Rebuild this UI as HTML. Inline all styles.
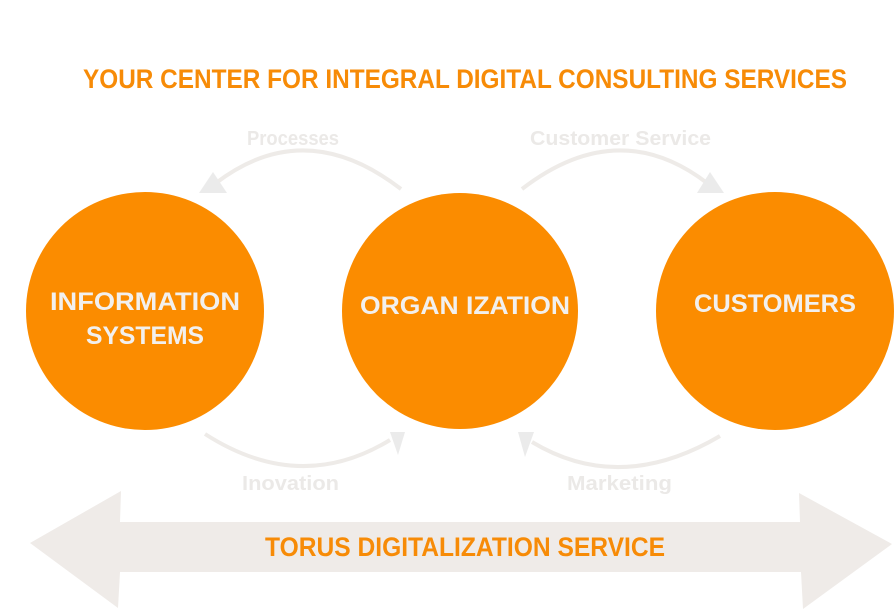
<!DOCTYPE html>
<html><head><meta charset="utf-8"><style>
html,body{margin:0;padding:0;background:#fff;width:894px;height:611px;overflow:hidden}
svg text{font-family:"Liberation Sans",sans-serif}
</style></head><body>
<svg width="894" height="611" viewBox="0 0 894 611" xmlns="http://www.w3.org/2000/svg">
<text x="83" y="88" font-size="27" font-weight="bold" fill="#f78b07" textLength="764" lengthAdjust="spacingAndGlyphs">YOUR CENTER FOR INTEGRAL DIGITAL CONSULTING SERVICES</text>
<g fill="#ebe9e7" font-size="20" font-weight="bold">
<text x="247" y="145" textLength="92" lengthAdjust="spacingAndGlyphs">Processes</text>
<text x="530" y="145" textLength="181" lengthAdjust="spacingAndGlyphs">Customer Service</text>
<text x="242" y="490" textLength="97" lengthAdjust="spacingAndGlyphs">Inovation</text>
<text x="567" y="490" textLength="105" lengthAdjust="spacingAndGlyphs">Marketing</text>
</g>
<g fill="none" stroke="#eeebe8" stroke-width="4">
<path d="M401 189 Q305 115 216 183"/>
<path d="M522 189 Q618 115 707 183"/>
<path d="M205 434 Q300 495 390 440"/>
<path d="M720 436 Q620 495 532 442"/>
</g>
<g fill="#ebebeb">
<polygon points="213,172 199,193 227,193"/>
<polygon points="710,172 697,193 724,193"/>
<polygon points="390,432 405,432 398,455"/>
<polygon points="518,432 534,432 525,457"/>
</g>
<g fill="#fb8c00">
<circle cx="145" cy="311" r="119"/>
<circle cx="460" cy="311" r="118"/>
<circle cx="775" cy="311" r="119"/>
</g>
<g fill="#f2f0ee" font-size="25" font-weight="bold" text-anchor="middle">
<text x="145" y="310" textLength="190" lengthAdjust="spacingAndGlyphs">INFORMATION</text>
<text x="145" y="344" textLength="118" lengthAdjust="spacingAndGlyphs">SYSTEMS</text>
<text x="465" y="314" textLength="210" lengthAdjust="spacingAndGlyphs">ORGAN IZATION</text>
<text x="775" y="312" textLength="162" lengthAdjust="spacingAndGlyphs">CUSTOMERS</text>
</g>
<polygon fill="#efebe8" points="30,543 121,491 120,522 800,522 799,493 892,544 803,609 801,572 120,572 118,608"/>
<text x="265" y="556" font-size="27" font-weight="bold" fill="#f78b07" textLength="400" lengthAdjust="spacingAndGlyphs">TORUS DIGITALIZATION SERVICE</text>
</svg>
</body></html>
